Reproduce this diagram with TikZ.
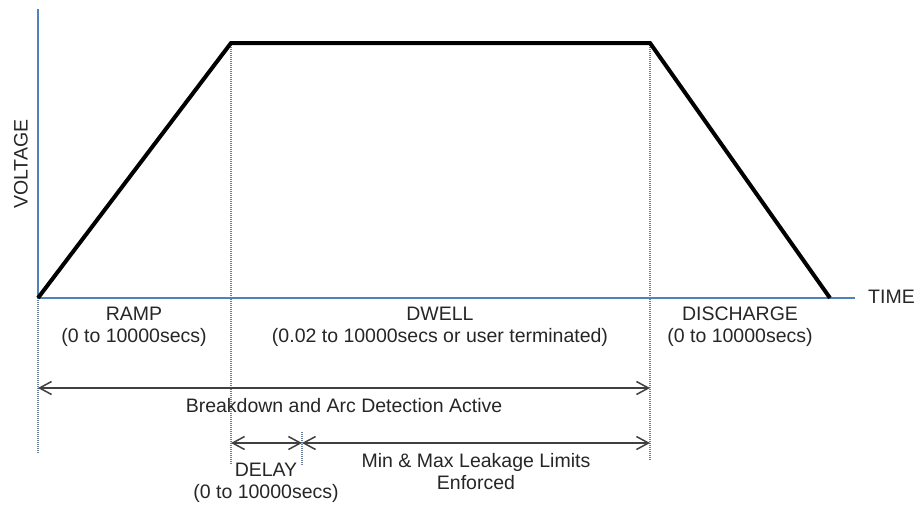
\documentclass[tikz,border=0pt]{standalone}
\usepackage{fontspec}
\setmainfont{Liberation Sans}
\usetikzlibrary{arrows.meta}
\definecolor{axisblue}{HTML}{4F81BD}
\definecolor{dotblue}{HTML}{6A7FA0}
\begin{document}
\begin{tikzpicture}[x=1pt,y=-1pt,
  lbl/.style={font=\fontsize{19.5}{22}\selectfont, align=center, inner sep=0pt, text=black!85},
  axisline/.style={draw=axisblue, line width=1.6pt},
  guide/.style={draw=dotblue, line width=1.2pt, dash pattern=on 1pt off 1pt},
  wave/.style={draw=black, line width=4pt, line join=miter},
  span/.style={draw=black!75, line width=1.5pt, {Straight Barb[length=12pt,width=13pt,line width=1.5pt]}-{Straight Barb[length=12pt,width=13pt,line width=1.5pt]}}
]
\useasboundingbox (0,0) rectangle (916,504);
% coordinates
\coordinate (o) at (38,298);
\coordinate (ytop) at (38,9);
\coordinate (xend) at (855,298);
\coordinate (p1) at (231,43);
\coordinate (p2) at (650,43);
\coordinate (p3) at (830,298);
\coordinate (g0b) at (38,453);
\coordinate (g1b) at (231,465);
\coordinate (g2b) at (650,460);
\coordinate (g3t) at (302,432);
\coordinate (g3b) at (302,465);
\coordinate (a1l) at (38,388);
\coordinate (a1r) at (650,388);
\coordinate (a2l) at (231,443);
\coordinate (a2m) at (302,443);
\coordinate (a2r) at (650,443);
% guides
\draw[guide] (o) -- (g0b);
\draw[guide] (p1) -- (g1b);
\draw[guide] (p2) -- (g2b);
\draw[guide] (g3t) -- (g3b);
% axes
\draw[axisline] (ytop) -- (o) -- (xend);
% waveform
\draw[wave] (o) -- (p1) -- (p2) -- (p3);
% arrows
\draw[span] (a1l) -- (a1r);
\draw[span] (a2l) -- (a2m);
\draw[span] (a2m) -- (a2r);
% labels
\node[lbl, rotate=90] (volt) at (21,164) {VOLTAGE};
\node[lbl, anchor=west] (time) at (868,297) {TIME};
\node[lbl] (ramp) at (134,327) {RAMP\\(0 to 10000secs)};
\node[lbl] (dwell) at (440,327) {DWELL\\(0.02 to 10000secs or user terminated)};
\node[lbl] (dis) at (740,327) {DISCHARGE\\(0 to 10000secs)};
\node[lbl] (brk) at (344,406) {Breakdown and Arc Detection Active};
\node[lbl] (delay) at (266,483) {DELAY\\(0 to 10000secs)};
\node[lbl] (leak) at (476,472) {Min \& Max Leakage Limits\\Enforced};
\end{tikzpicture}
\end{document}
